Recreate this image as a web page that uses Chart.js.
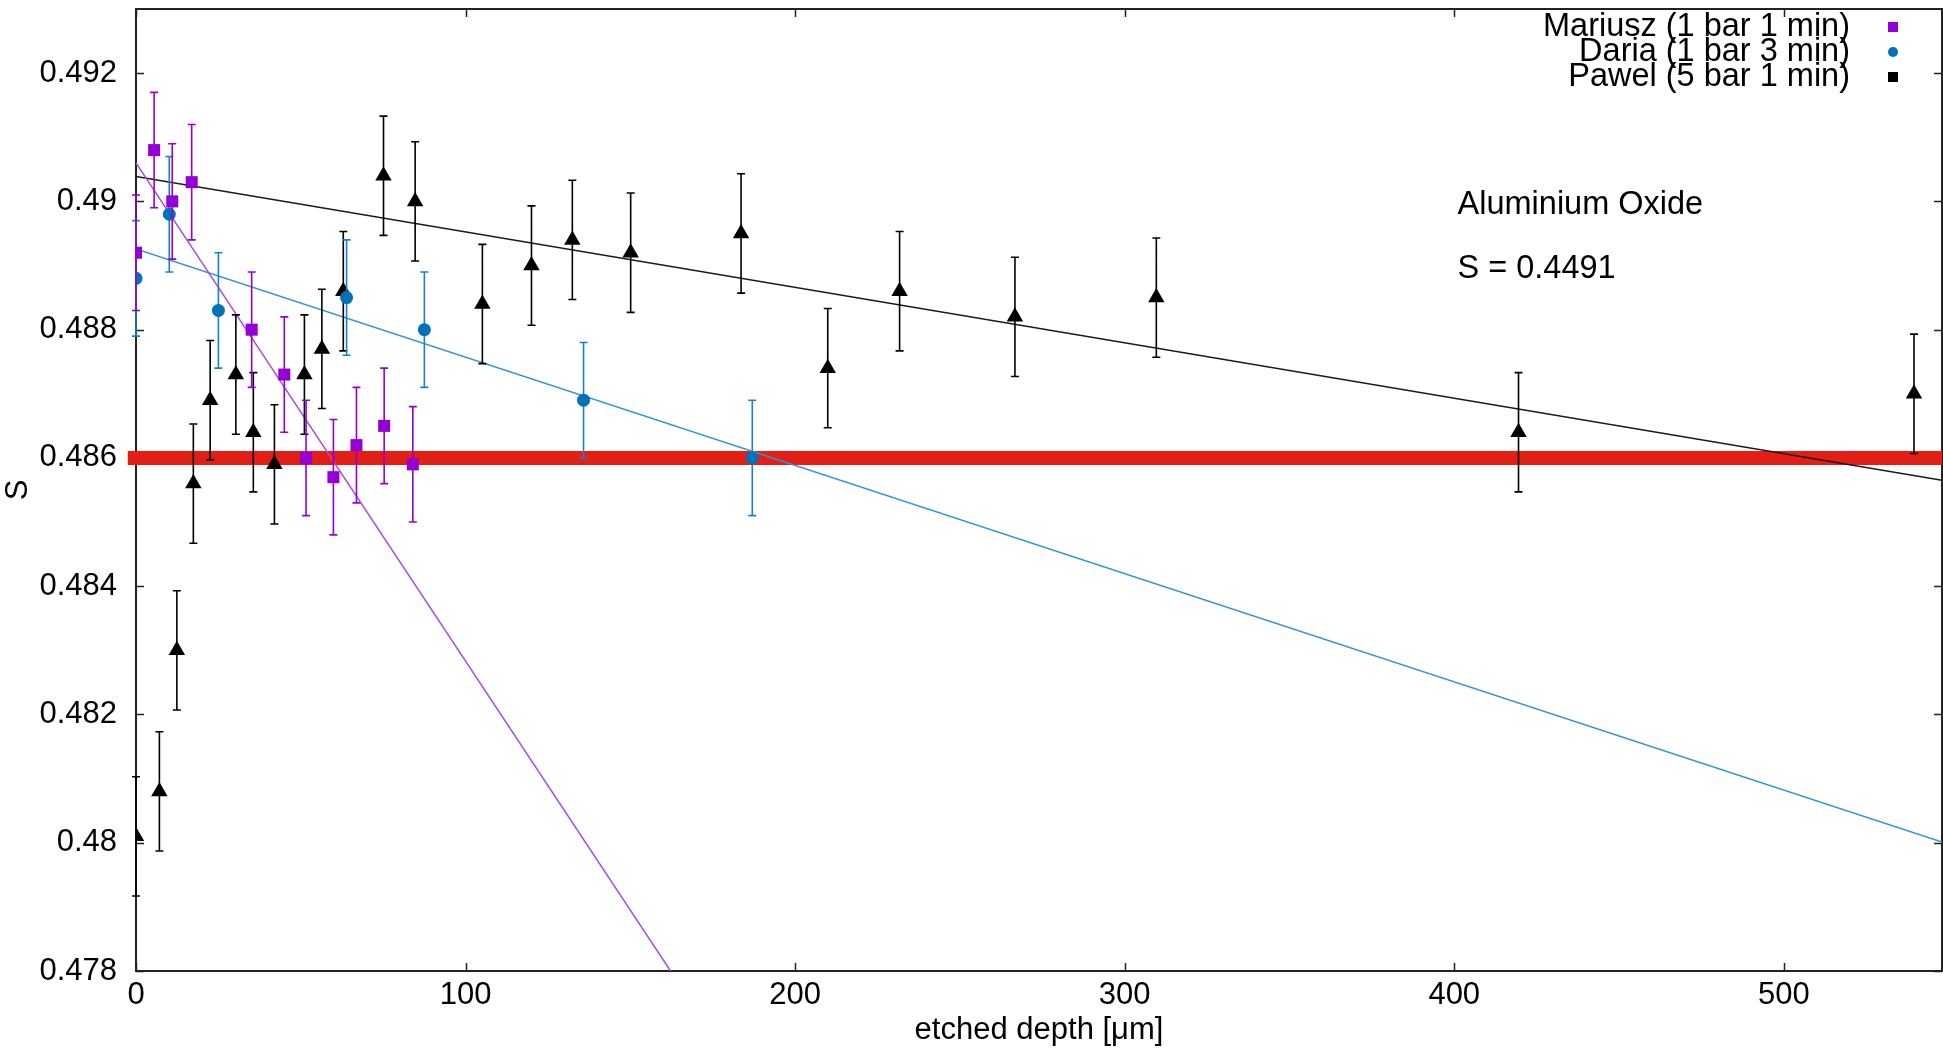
<!DOCTYPE html>
<html>
<head>
<meta charset="utf-8">
<title>Aluminium Oxide - S vs etched depth</title>
<script src="https://cdn.jsdelivr.net/npm/chart.js@4.4.0/dist/chart.umd.min.js"></script>
<style>
  html, body { margin: 0; padding: 0; background: #fff; overflow: hidden; }
</style>
</head>
<body>
<canvas id="depthChart" width="1943" height="1049"></canvas>
<script>
// Measured points: etched depth [um] and S, one error value per series
const mariuszDepth = [0, 5.5, 11.0, 16.9, 35.1, 45.0, 51.6, 59.9, 66.9, 75.3, 84.0];
const mariuszS = [0.4892, 0.4908, 0.4900, 0.4903, 0.4880, 0.4873, 0.4860, 0.4857, 0.4862, 0.4865, 0.4859];
const mariuszErr = 0.0009;

const dariaDepth = [0, 10.1, 25.0, 63.9, 87.5, 135.8, 187.0];
const dariaS = [0.4888, 0.4898, 0.4883, 0.4885, 0.4880, 0.4869, 0.4860];
const dariaErr = 0.0009;

const pawelDepth = [0, 7.1, 12.4, 17.4, 22.5, 30.3, 35.6, 42.0, 51.1, 56.4, 62.9, 75.1,
                    84.7, 105.1, 120.0, 132.4, 150.1, 183.6, 209.9, 231.7, 266.7, 309.6, 419.5, 539.5];
const pawelS = [0.4801, 0.4808, 0.4830, 0.4856, 0.4869, 0.4873, 0.4864, 0.4859, 0.4873, 0.4877, 0.4886, 0.4904,
                0.4900, 0.4884, 0.4890, 0.4894, 0.4892, 0.4895, 0.4874, 0.4886, 0.4882, 0.4885, 0.4864, 0.4870];
const pawelErr = 0.00093;

// Linear fits (end points)
const mariuszFitDepth = [0, 162.2];
const mariuszFitS = [0.4906, 0.478];
const fitDepth = [0, 548];
const dariaFitS = [0.48926, 0.48001];
const pawelFitS = [0.49039, 0.48565];

// Reference level
const refDepth = [-2.5, 548];
const refS = [0.486, 0.486];

// Axis ranges
const depthRange = [0, 548];
const depthStep = 100;
const sRange = [0.478, 0.493];
const sStep = 0.002;

const FONT = '"Liberation Sans", Arial, sans-serif';

function toPoints(xs, ys) {
  return xs.map((x, i) => ({ x: x, y: ys[i] }));
}

// Frame with inward ticks, error bars, legend and notes
const gnuplotLook = {
  id: 'gnuplotLook',
  beforeDatasetsDraw(chart) {
    const { ctx, chartArea: a, scales: { x, y } } = chart;
    ctx.save();
    ctx.strokeStyle = '#222';
    ctx.lineWidth = 2;
    ctx.strokeRect(a.left, a.top, a.right - a.left, a.bottom - a.top);
    ctx.lineWidth = 1.5;
    ctx.beginPath();
    x.ticks.forEach(t => {
      const px = Math.round(x.getPixelForValue(t.value)) + 0.5;
      ctx.moveTo(px, a.bottom); ctx.lineTo(px, a.bottom - 8);
      ctx.moveTo(px, a.top); ctx.lineTo(px, a.top + 8);
    });
    y.ticks.forEach(t => {
      const py = Math.round(y.getPixelForValue(t.value)) + 0.5;
      ctx.moveTo(a.left, py); ctx.lineTo(a.left + 8, py);
      ctx.moveTo(a.right, py); ctx.lineTo(a.right - 8, py);
    });
    ctx.stroke();
    ctx.restore();
  },
  beforeDatasetDraw(chart, args) {
    const ds = chart.data.datasets[args.index];
    if (!ds.errorBar) return;
    const { ctx, scales: { x, y } } = chart;
    ctx.save();
    ctx.strokeStyle = ds.borderColor;
    ctx.lineWidth = 1.6;
    ctx.beginPath();
    ds.data.forEach(p => {
      const px = x.getPixelForValue(p.x);
      const top = y.getPixelForValue(p.y + ds.errorBar);
      const bot = y.getPixelForValue(p.y - ds.errorBar);
      ctx.moveTo(px, top); ctx.lineTo(px, bot);
      ctx.moveTo(px - 4, top); ctx.lineTo(px + 4, top);
      ctx.moveTo(px - 4, bot); ctx.lineTo(px + 4, bot);
    });
    ctx.stroke();
    ctx.restore();
  },
  afterDraw(chart) {
    const { ctx, chartArea: a, scales: { x, y } } = chart;
    ctx.save();
    // legend, top right inside the frame
    ctx.font = '32.5px ' + FONT;
    ctx.textAlign = 'right';
    ctx.textBaseline = 'middle';
    chart.data.datasets.filter(d => d.legendStyle).forEach((d, i) => {
      const cy = a.top + 18 + i * 25;
      ctx.fillStyle = '#000';
      ctx.fillText(d.label, a.right - 92, cy);
      ctx.fillStyle = d.backgroundColor;
      ctx.beginPath();
      if (d.legendStyle === 'circle') {
        ctx.arc(a.right - 49, cy, 5, 0, Math.PI * 2);
      } else {
        ctx.rect(a.right - 54, cy - 5, 10, 10);
      }
      ctx.fill();
    });
    // notes
    ctx.font = '32.5px ' + FONT;
    ctx.textAlign = 'left';
    ctx.fillStyle = '#000';
    ctx.fillText('Aluminium Oxide', x.getPixelForValue(401), y.getPixelForValue(0.48994));
    ctx.fillText('S = 0.4491', x.getPixelForValue(401), y.getPixelForValue(0.48894));
    ctx.restore();
  }
};

// keep the plot frame exactly where the layout padding puts it
function noEdgePadding(scale) {
  scale.paddingTop = 0;
  scale.paddingBottom = 0;
  scale.paddingLeft = 0;
  scale.paddingRight = 0;
}

window.onload = function () {
  const ctx = document.getElementById('depthChart').getContext('2d');
  new Chart(ctx, {
    type: 'scatter',
    data: {
      datasets: [
        {
          label: 'Mariusz (1 bar 1 min)',
          data: toPoints(mariuszDepth, mariuszS),
          errorBar: mariuszErr,
          legendStyle: 'rect',
          pointStyle: 'rect',
          pointRadius: 8.5,
          backgroundColor: '#9400d3',
          borderColor: '#9400d3',
          borderWidth: 0,
          order: 1
        },
        {
          label: 'Daria (1 bar 3 min)',
          data: toPoints(dariaDepth, dariaS),
          errorBar: dariaErr,
          legendStyle: 'circle',
          pointStyle: 'circle',
          pointRadius: 6.5,
          backgroundColor: '#0072b8',
          borderColor: '#1a82c4',
          borderWidth: 0,
          order: 1
        },
        {
          label: 'Pawel (5 bar 1 min)',
          data: toPoints(pawelDepth, pawelS),
          errorBar: pawelErr,
          legendStyle: 'rect',
          pointStyle: 'triangle',
          pointRadius: 9.5,
          backgroundColor: '#000',
          borderColor: '#000',
          borderWidth: 0,
          order: 1
        },
        {
          label: 'Mariusz fit',
          data: toPoints(mariuszFitDepth, mariuszFitS),
          showLine: true,
          pointRadius: 0,
          borderColor: '#a64ee4',
          borderWidth: 1.5,
          order: 5
        },
        {
          label: 'Daria fit',
          data: toPoints(fitDepth, dariaFitS),
          showLine: true,
          pointRadius: 0,
          borderColor: '#3196d4',
          borderWidth: 1.5,
          order: 5
        },
        {
          label: 'Pawel fit',
          data: toPoints(fitDepth, pawelFitS),
          showLine: true,
          pointRadius: 0,
          borderColor: '#1a1a1a',
          borderWidth: 1.5,
          order: 5
        },
        {
          label: 'reference',
          data: toPoints(refDepth, refS),
          showLine: true,
          pointRadius: 0,
          borderColor: '#e31e14',
          borderWidth: 14,
          clip: false,
          order: 10
        }
      ]
    },
    options: {
      responsive: false,
      animation: false,
      layout: { autoPadding: false, padding: { top: 9, right: 1, left: 0, bottom: 0 } },
      plugins: {
        legend: { display: false },
        tooltip: { enabled: false }
      },
      scales: {
        x: {
          type: 'linear',
          min: depthRange[0],
          max: depthRange[1],
          grid: { display: false, drawTicks: false },
          border: { display: false },
          ticks: {
            stepSize: depthStep,
            includeBounds: false,
            padding: 6,
            color: '#000',
            font: { size: 31, family: FONT }
          },
          title: {
            display: true,
            text: 'etched depth [μm]',
            color: '#000',
            font: { size: 31, family: FONT },
            padding: { top: 0, bottom: 0 }
          },
          afterFit: scale => { scale.height = 78; noEdgePadding(scale); }
        },
        y: {
          type: 'linear',
          min: sRange[0],
          max: sRange[1],
          grid: { display: false, drawTicks: false },
          border: { display: false },
          ticks: {
            stepSize: sStep,
            includeBounds: false,
            padding: 19,
            color: '#000',
            font: { size: 31, family: FONT },
            callback: v => String(+v.toFixed(3))
          },
          title: {
            display: true,
            text: 'S',
            color: '#000',
            font: { size: 31, family: FONT },
            padding: { top: 0, bottom: 0 }
          },
          afterFit: scale => { scale.width = 136; noEdgePadding(scale); }
        }
      }
    },
    plugins: [gnuplotLook]
  });
};
</script>
</body>
</html>
